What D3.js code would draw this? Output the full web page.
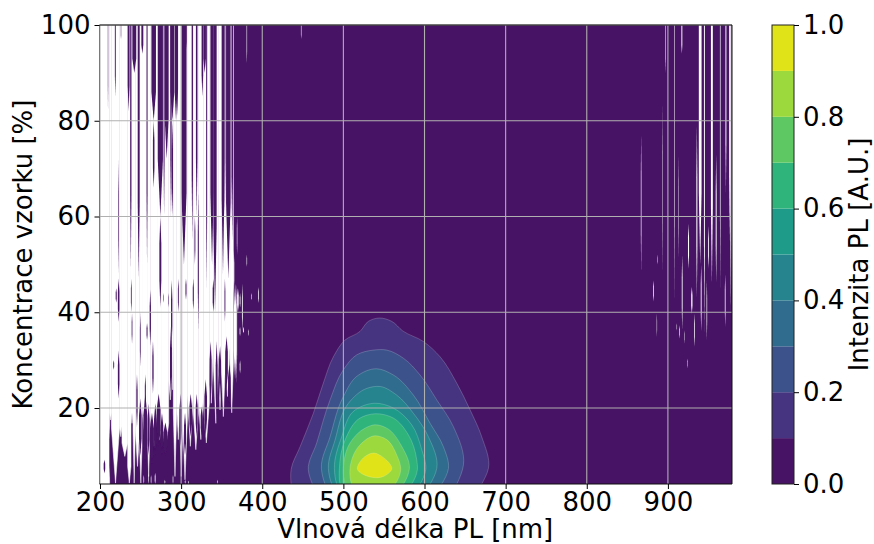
<!DOCTYPE html>
<html>
<head>
<meta charset="utf-8">
<script src="https://cdn.jsdelivr.net/npm/d3@7"></script>
<style>
  body { margin: 0; background: #fff; }
  text { font-family: "DejaVu Sans", sans-serif; fill: #000; }
</style>
</head>
<body>
<div id="chart"></div>
<script>
//// data
const xTicks = [200, 300, 400, 500, 600, 700, 800, 900];
const yTicks = [20, 40, 60, 80, 100];
const barTicks = [0, 0.2, 0.4, 0.6, 0.8, 1];
const bandEdges = [0, 0.1, 0.2, 0.3, 0.4, 0.5, 0.6, 0.7, 0.8, 0.9, 1];

// contour outlines, level 0.1 up to 0.9 (wavelength nm / concentration %)
const contourLevels = [0.1, 0.2, 0.3, 0.4, 0.5, 0.6, 0.7, 0.8, 0.9];
const contourWl = [
  [435.5, 435.5, 446.6, 463, 475.3, 487.7, 502, 520.5, 530.8, 544.4, 559.6, 573.2, 598.6, 619.2, 639.7, 656.2, 670.5, 678.8, 670.5],
  [461.8, 456.8, 467.1, 483.6, 500, 516.4, 537, 553.4, 574, 594.5, 615.1, 635.6, 648, 639.7],
  [477.4, 472.9, 483.6, 500, 516.4, 541.1, 561.6, 586.3, 606.9, 623.3, 629.5, 621.2],
  [485.6, 481.5, 489.7, 506.2, 528.8, 545.2, 565.7, 586.3, 604.8, 615.1, 606.9],
  [491.8, 488.9, 497.9, 512.3, 539, 561.6, 584.2, 596.6, 601.5, 594.5],
  [495.9, 495.1, 502, 520.5, 539, 561.6, 580.1, 590.4, 591.2, 584.2],
  [502, 500, 508.2, 526.7, 539, 553.4, 571.9, 581.4, 574],
  [510.3, 508.2, 520.5, 539, 553.4, 565.7, 570.7, 563.7],
  [517.3, 526.7, 537.8, 547.3, 559.6, 549.3, 532.9]
];
const contourConc = [
  [4.1, 7.1, 11.9, 18.9, 25.2, 30.7, 34.2, 36, 38.1, 38.8, 38.1, 36.1, 33.9, 30.7, 25.2, 19.6, 14, 7.4, 4.1],
  [4.1, 7.1, 12.7, 21.7, 28, 31.1, 32.1, 32.1, 30.4, 26.9, 21.7, 16.1, 8.1, 4.1],
  [4.1, 7.4, 14, 22.4, 26.6, 28.2, 26.9, 22.7, 16.8, 11.9, 7.4, 4.1],
  [4.1, 7.4, 13.3, 21, 24.1, 24.5, 22.7, 18.9, 14, 7.4, 4.1],
  [4.1, 7.4, 14, 19.3, 21, 20, 16.5, 11.3, 7.1, 4.1],
  [4.1, 7.4, 13.3, 17.9, 18.8, 17.9, 14.4, 9.2, 7.1, 4.1],
  [4.1, 7.4, 12.7, 15.8, 16.5, 15.8, 12, 7.4, 4.1],
  [4.1, 7.4, 12.3, 14.2, 13.4, 10.2, 7.2, 4.1],
  [7.2, 9.9, 10.6, 9.9, 7.2, 5.7, 5.6]
];

// no-data columns hanging from the top: nm from, nm to, full width down to %, tip %
const gaps = [
  [198.3, 211.9, 4.1, 4.1], [211.9, 214, 19, 17.5], [214, 224.3, 16.1, 4.3],
  [224.3, 227.1, 16.1, 14], [227.1, 234.1, 12.7, 9.9], [234.1, 238.2, 7.8, 4.3],
  [238.2, 240.7, 19, 16.8], [240.7, 243.6, 15.4, 4.3], [243.6, 248.9, 15.4, 7.8],
  [248.9, 251.8, 12, 4.3], [251.8, 258, 20.3, 14.1], [258, 262, 17.5, 5.7],
  [262, 270.3, 18.9, 12], [270.3, 276.4, 18.2, 13.4], [276.4, 284.7, 16.8, 11.3],
  [284.7, 288.8, 25.9, 21.7], [288.8, 290.4, 33.5, 23.8], [290.4, 294.5, 19, 5.7],
  [294.5, 298.6, 20.3, 13.4], [298.6, 301.9, 15.4, 5.7], [301.9, 307.7, 17.5, 5],
  [307.7, 315.1, 23.1, 12], [315.1, 321.2, 19, 11.3], [321.2, 327.4, 22.4, 13.4],
  [327.4, 334.8, 21, 12.7], [334.8, 339.7, 32.8, 21], [339.7, 345.9, 29.4, 16.8],
  [345.9, 350, 30.8, 19.6], [350, 354.1, 27.3, 18.2], [354.1, 360.3, 32.8, 22.4],
  [360.3, 364.4, 29.4, 19]
];

// data stripes inside the no-data zone: centre nm, width nm, top %, bottom %
const stripes = [
  [209.9, 0.35, 100, 82], [218.9, 0.7, 100, 85], [225.9, 0.35, 100, 97], [235.3, 1.5, 100, 82],
  [238, 1, 100, 49], [242.3, 3, 100, 90], [247.7, 1.5, 100, 47], [252.2, 1.5, 100, 94],
  [258, 0.8, 100, 50], [266.2, 3.5, 100, 80], [266.2, 1.2, 80, 66], [274.4, 4, 100, 60],
  [274.4, 1.5, 60, 41], [279, 0.8, 100, 60], [282.2, 3, 100, 72], [287.5, 1, 100, 60],
  [289.2, 3, 100, 80], [289.2, 1, 80, 60], [287.5, 1.5, 37, 22], [293.7, 2, 100, 80],
  [295.3, 1.2, 100, 81], [303.5, 4, 100, 50], [306, 1, 100, 95], [313.8, 1, 100, 55],
  [317, 0.7, 60, 50], [319.2, 1.2, 100, 60], [326.2, 1.2, 100, 85], [329, 2, 100, 90],
  [331.5, 0.8, 100, 45], [321.2, 0.8, 65, 36], [338.1, 2.5, 100, 50], [341.8, 2.5, 100, 40],
  [351.6, 2, 100, 48], [354, 0.8, 100, 60], [358.2, 3.5, 100, 47], [363, 1.2, 100, 55],
  [288.4, 1, 46.8, 33], [296.6, 0.7, 47, 40], [306, 0.8, 47, 42.6], [315, 0.8, 47, 40.5],
  [336.4, 1.5, 34, 21], [339.7, 1, 47, 40], [347, 0.8, 32, 26], [354, 0.7, 47, 38],
  [223, 0.5, 72, 48], [223, 1.2, 47, 38], [223, 1.2, 32, 22], [220, 0.8, 45, 42],
  [238.6, 0.6, 47, 40], [239.5, 0.6, 39.8, 33.5], [249.7, 0.6, 40, 28.6], [255.9, 0.8, 27, 19],
  [258, 0.8, 37.7, 34.2], [262, 1, 44.7, 33], [265.3, 1, 34, 23], [278.5, 0.4, 44, 42],
  [284.7, 0.4, 44, 41], [216.9, 0.7, 30, 28],
  // fingers rising out of the filled area
  [255.9, 3, 23, 8], [264.1, 3, 19, 8], [272.3, 3, 23, 12], [276.4, 2, 19, 10],
  [249.7, 2, 22, 10], [245.6, 1, 27, 16], [260, 1.5, 21, 10], [268.2, 2, 21, 10],
  [280.6, 3, 17, 10], [299.5, 2, 23, 12], [304.8, 1.5, 19, 10], [311.8, 2, 23, 14],
  [319.2, 1.5, 23, 14], [325.3, 1.5, 20.3, 14], [330.3, 2, 26, 14], [343.8, 1.5, 34, 17],
  [348, 1.5, 33, 22], [356, 2, 35, 24], [359.5, 2, 29, 20], [212.7, 1.4, 17.5, 4],
  [205.5, 1.2, 9.2, 6.4]
];

// isolated no-data slivers in the low signal area: centre nm, width nm, top %, bottom %
const slivers = [
  [366.5, 2.5, 46, 26], [370, 1.5, 45, 40], [375.5, 0.8, 46, 36], [372.6, 0.7, 37, 35],
  [372.7, 0.7, 30, 27.2], [372.7, 0.7, 44, 41], [381, 0.5, 52, 49.5], [383, 0.5, 36.5, 35],
  [395.3, 0.7, 45.3, 41.9], [376.8, 0.8, 37, 35.6], [387, 0.5, 44, 42.5], [368.5, 0.8, 46, 25],
  [364.9, 1, 53, 44], [381, 0.5, 100, 92], [369, 0.5, 60, 52], [448, 0.5, 100, 97],
  [254, 0.6, 6, 4.1], [260, 0.6, 6.5, 4.1], [263, 0.6, 6, 4.1], [268, 0.8, 6.5, 4.1],
  [280, 0.6, 5, 4.1], [290, 0.6, 6, 4.1], [305, 0.6, 5, 4.1], [309, 0.6, 4.8, 4.1],
  [345, 0.5, 5, 4.1],
  [867, 0.6, 77.3, 48.1], [893.4, 0.4, 84, 48], [897, 0.5, 100, 90], [887.2, 0.4, 52, 50],
  [882.3, 0.7, 46.7, 42.2], [886.4, 0.4, 39.7, 34.9], [908, 0.5, 100, 42], [917.2, 0.9, 100, 94],
  [917.6, 0.8, 52, 36.3], [913, 0.4, 73, 51], [925.4, 1, 58.5, 49.1], [929.5, 1.2, 45.3, 39.7],
  [932.8, 0.7, 39.7, 32.8], [924.2, 0.4, 30.4, 28.3], [914.3, 0.6, 37.3, 34.5], [911, 0.4, 37.7, 36.2],
  [920.5, 0.4, 36.3, 33.5], [935.7, 1, 79, 43], [939.8, 2.6, 100, 50], [941, 0.8, 50, 36],
  [945, 0.9, 100, 36], [950, 0.8, 58, 49.1], [948, 0.6, 46.7, 34.2], [954.2, 1.8, 100, 46],
  [959.5, 0.9, 73, 46], [964.5, 0.6, 100, 45], [971.5, 0.9, 100, 65], [970.6, 0.7, 48, 37],
  [976.2, 1.1, 100, 55], [977.6, 1.2, 100, 40]
];

//// chart
const width = 874, height = 544;
const margin = {top: 25, left: 99.5, right: 732, bottom: 484};
const bar = {left: 772, right: 794};
const fontSize = "26px";

const svg = d3.select("#chart").append("svg")
  .attr("width", width)
  .attr("height", height)
  .style("display", "block");

const xScale = d3.scaleLinear().domain([199.4, 979]).range([margin.left, margin.right]);
const yScale = d3.scaleLinear().domain([4.13, 100]).range([margin.bottom, margin.top]);
const barScale = d3.scaleLinear().domain([0, 1]).range([margin.bottom, margin.top]);
const bandColor = v => d3.interpolateViridis(v);
const grey = "#b0b0b0";
const purple = bandColor(0.05);

svg.append("clipPath").attr("id", "plot")
  .append("rect")
  .attr("x", margin.left).attr("y", margin.top)
  .attr("width", margin.right - margin.left)
  .attr("height", margin.bottom - margin.top);

// the reference was resampled, so the thin columns are soft sideways
svg.append("filter").attr("id", "soft")
  .attr("filterUnits", "userSpaceOnUse")
  .attr("x", 0).attr("y", 0).attr("width", width).attr("height", height)
  .append("feGaussianBlur").attr("stdDeviation", "0.45 0");

const plot = svg.append("g").attr("clip-path", "url(#plot)");

// lowest band
plot.append("rect")
  .attr("x", xScale(199.4)).attr("y", yScale(100))
  .attr("width", xScale(979) - xScale(199.4))
  .attr("height", yScale(4.13) - yScale(100))
  .attr("fill", purple);

const poly = d3.line().x(d => xScale(d[0])).y(d => yScale(d[1]));
const streaks = plot.append("g").attr("filter", "url(#soft)");

// hanging no-data columns
streaks.selectAll(".gap").data(gaps).enter().append("path")
  .attr("class", "gap")
  .attr("d", d => poly([[d[0], 100], [d[1], 100], [d[1], d[2]], [(d[0] + d[1]) / 2, d[3]], [d[0], d[2]]]) + "Z")
  .attr("fill", "#fff")
  .attr("stroke", "#fff")
  .attr("stroke-width", 0.5);

// thin stripes with pointed ends, flat where they reach the top
function stripePath(d, spread) {
  const c = d[0], w = d[1] * spread, top = d[2], bot = d[3];
  const t = (top - bot) * 0.3;
  const pts = top >= 100
    ? [[c - w, top], [c + w, top]]
    : [[c, top], [c + w, top - t]];
  pts.push([c + w, bot + t], [c, bot], [c - w, bot + t]);
  if (top < 100) pts.push([c - w, top - t]);
  return poly(pts) + "Z";
}

streaks.selectAll(".stripe").data(stripes).enter().append("path")
  .attr("class", "stripe")
  .attr("d", d => stripePath(d, 0.8))
  .attr("fill", purple);

streaks.selectAll(".sliver").data(slivers).enter().append("path")
  .attr("class", "sliver")
  .attr("d", d => stripePath(d, 0.65))
  .attr("fill", "#fff");

// filled contours, lowest first
const outline = d3.line()
  .x(d => xScale(d[0])).y(d => yScale(d[1]))
  .curve(d3.curveCatmullRomClosed.alpha(1));

plot.selectAll(".band").data(contourLevels).enter().append("path")
  .attr("class", "band")
  .attr("d", (lev, i) => outline(contourWl[i].map((w, j) => [w, contourConc[i][j]])))
  .attr("fill", lev => bandColor(lev + 0.05))
  .attr("stroke", "rgba(255,255,255,0.28)")
  .attr("stroke-width", 0.7);

// left spine sits under the grid, the others over it
svg.append("line")
  .attr("x1", margin.left).attr("x2", margin.left)
  .attr("y1", margin.top).attr("y2", margin.bottom)
  .attr("stroke", "#333").attr("stroke-width", 1);

const grid = svg.append("g").attr("stroke", grey).attr("stroke-width", 1.1);
grid.selectAll(".gx").data(xTicks).enter().append("line")
  .attr("x1", d => xScale(d)).attr("x2", d => xScale(d))
  .attr("y1", margin.top).attr("y2", margin.bottom);
grid.selectAll(".gy").data(yTicks).enter().append("line")
  .attr("x1", margin.left).attr("x2", margin.right)
  .attr("y1", d => yScale(d)).attr("y2", d => yScale(d));

svg.append("path")
  .attr("d", `M${margin.left},${margin.bottom}H${margin.right}V${margin.top}H${margin.left}`)
  .attr("fill", "none").attr("stroke", "#111").attr("stroke-width", 1);

//// axes
function styleAxis(g) {
  g.select(".domain").remove();
  g.selectAll(".tick line").attr("stroke", "#000").attr("stroke-width", 1);
  g.selectAll(".tick text").style("font-size", fontSize).style("fill", "#000");
}

svg.append("g")
  .attr("transform", "translate(0," + margin.bottom + ")")
  .call(d3.axisBottom(xScale).tickValues(xTicks).tickFormat(d3.format("d")).tickSize(5).tickPadding(4))
  .call(styleAxis);

svg.append("g")
  .attr("transform", "translate(" + margin.left + ",0)")
  .call(d3.axisLeft(yScale).tickValues(yTicks).tickFormat(d3.format("d")).tickSize(5).tickPadding(4))
  .call(styleAxis);

svg.append("text")
  .attr("x", (margin.left + margin.right) / 2 - 0.5).attr("y", 537.5)
  .attr("text-anchor", "middle")
  .style("font-size", fontSize)
  .text("Vlnová délka PL [nm]");

svg.append("text")
  .attr("transform", "translate(32," + (margin.top + margin.bottom) / 2 + ") rotate(-90)")
  .attr("text-anchor", "middle")
  .style("font-size", fontSize)
  .text("Koncentrace vzorku [%]");

//// colorbar
svg.selectAll(".swatch").data(d3.pairs(bandEdges)).enter().append("rect")
  .attr("class", "swatch")
  .attr("x", bar.left)
  .attr("y", d => barScale(d[1]))
  .attr("width", bar.right - bar.left)
  .attr("height", d => barScale(d[0]) - barScale(d[1]))
  .attr("fill", d => bandColor((d[0] + d[1]) / 2));

svg.append("rect")
  .attr("x", bar.left).attr("y", margin.top)
  .attr("width", bar.right - bar.left).attr("height", margin.bottom - margin.top)
  .attr("fill", "none").attr("stroke", "#222").attr("stroke-width", 1);

svg.append("g")
  .attr("transform", "translate(" + bar.right + ",0)")
  .call(d3.axisRight(barScale).tickValues(barTicks).tickFormat(d3.format(".1f")).tickSize(5).tickPadding(4))
  .call(styleAxis);

svg.append("text")
  .attr("transform", "translate(867.5," + (margin.top + margin.bottom) / 2 + ") rotate(-90)")
  .attr("text-anchor", "middle")
  .style("font-size", fontSize)
  .text("Intenzita PL [A.U.]");
</script>
</body>
</html>
